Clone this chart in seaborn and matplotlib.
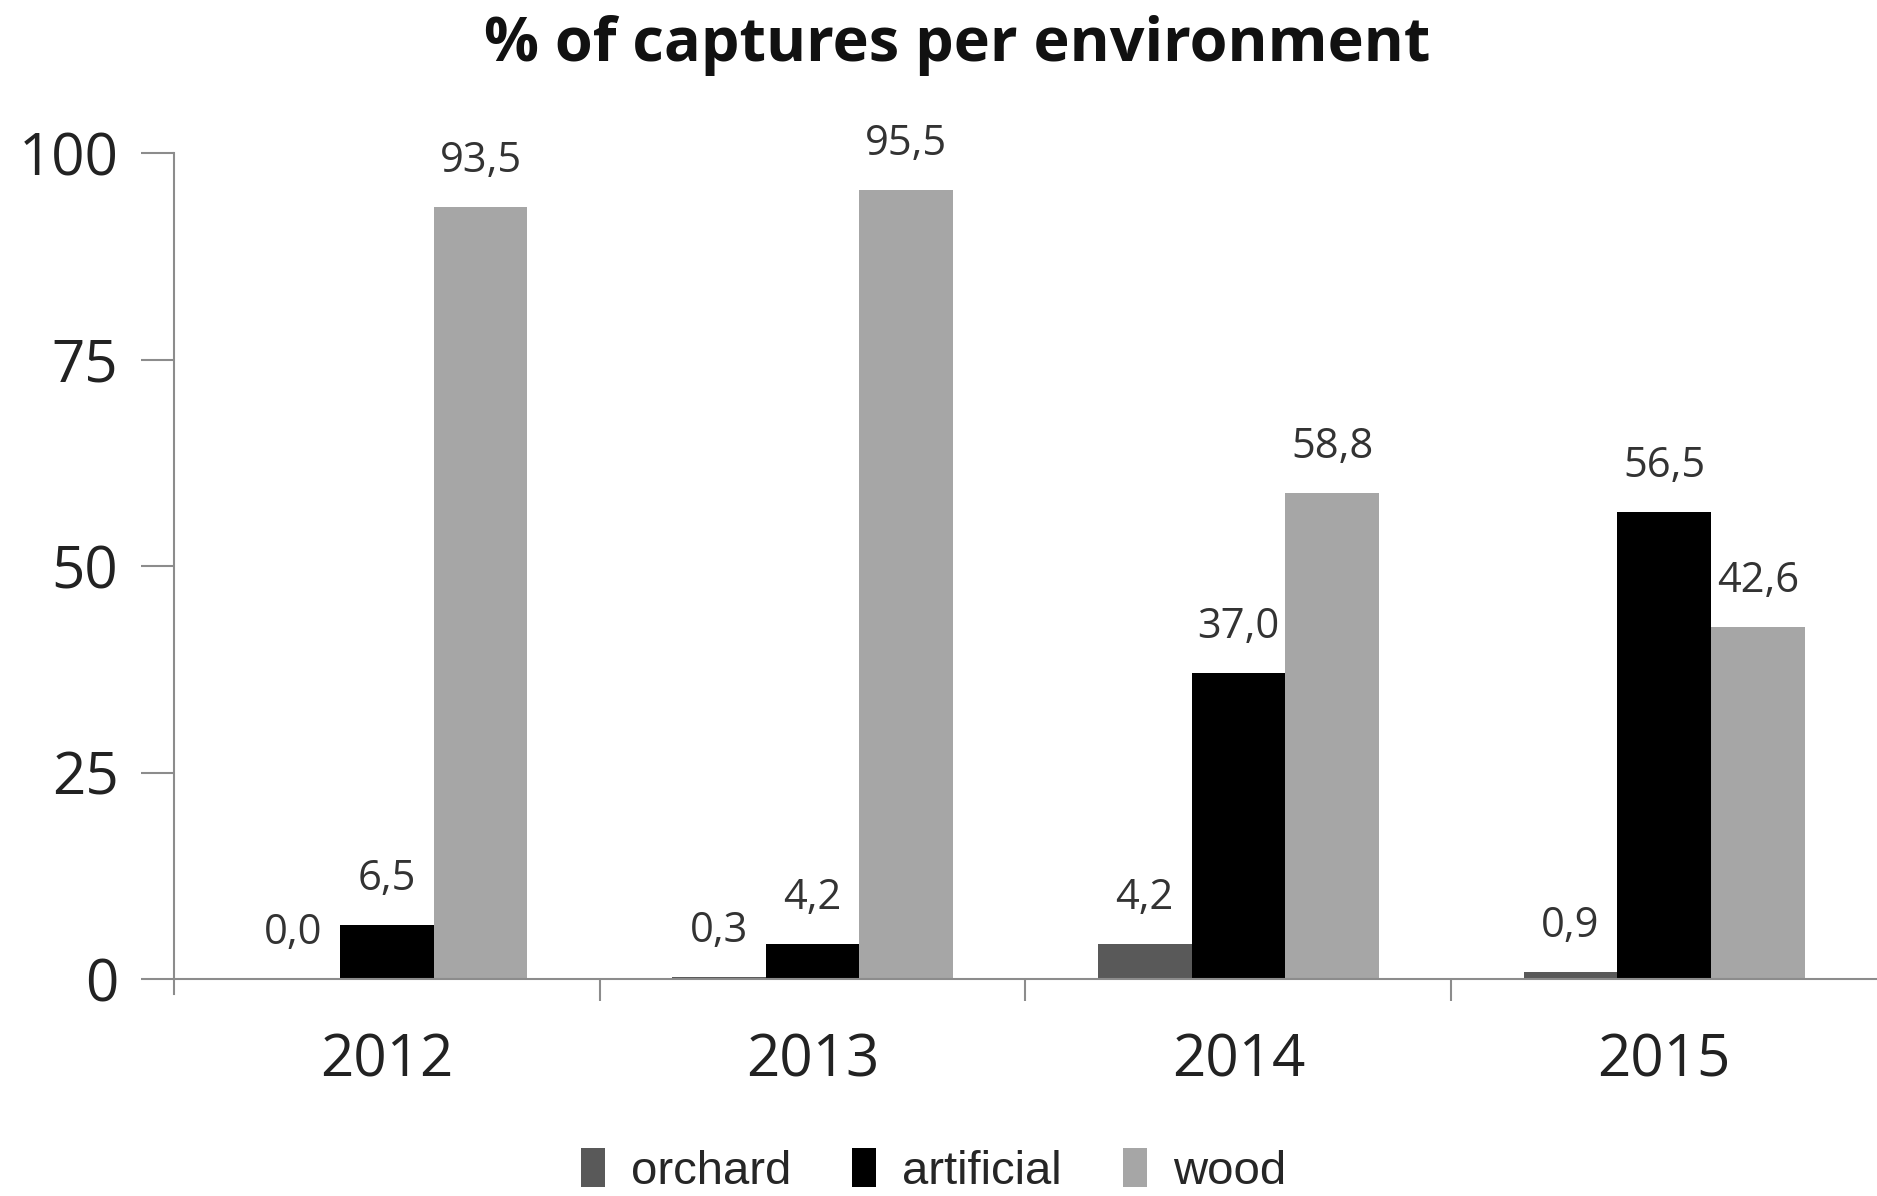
import matplotlib
matplotlib.use("Agg")
import matplotlib.pyplot as plt
import seaborn as sns
import pandas as pd
import numpy as np

years = ["2012", "2013", "2014", "2015"]
environments = ["orchard", "artificial", "wood"]
orchard = [0.0, 0.3, 4.2, 0.9]
artificial = [6.5, 4.2, 37.0, 56.5]
wood = [93.5, 95.5, 58.8, 42.6]
colors = ["#595959", "#000000", "#a6a6a6"]

df = pd.DataFrame({
    "year": years * 3,
    "environment": [e for e in environments for _ in years],
    "value": orchard + artificial + wood,
})

sns.set_theme(style="white")
plt.rcParams["font.family"] = ["Open Sans", "DejaVu Sans"]

fig = plt.figure(figsize=(18.77, 11.96), dpi=100)
ax = fig.add_axes([0.0927, 0.1814, 0.9073, 0.6906])

sns.barplot(data=df, x="year", y="value", hue="environment", order=years,
            hue_order=environments, palette=colors, width=0.66, gap=0,
            saturation=1, edgecolor="none", ax=ax, legend=True)

ax.set_ylim(0, 100)
ax.set_xlim(-0.5, 3.5)
ax.set_yticks([0, 25, 50, 75, 100])
ax.set_xlabel("")
ax.set_ylabel("")

axis_col = "#8c8c8c"
for s in ["top", "right"]:
    ax.spines[s].set_visible(False)
for s in ["left", "bottom"]:
    ax.spines[s].set_color(axis_col)
    ax.spines[s].set_linewidth(1.5)
ax.spines["left"].set_bounds(-1.8, 100)

ax.tick_params(axis="y", which="major", direction="out", length=24, width=1.5,
               color=axis_col, labelsize=42, labelcolor="#222222", pad=16, left=True)
ax.tick_params(axis="x", which="major", length=0, labelsize=42,
               labelcolor="#222222", pad=38)
ax.set_xticks([0.5, 1.5, 2.5], minor=True)
ax.tick_params(axis="x", which="minor", direction="out", length=16, width=1.5,
               color=axis_col, bottom=True)

# value labels above each bar
for cont in ax.containers:
    labels = [f"{v:.1f}".replace(".", ",") for v in cont.datavalues]
    ax.bar_label(cont, labels=labels, padding=18, fontsize=30, color="#333333")

ax.text(0.46, 1.13, "% of captures per environment", transform=ax.transAxes,
        ha="center", va="center", fontsize=44, fontweight="bold", color="#111111")

handles, lbls = ax.get_legend_handles_labels()
ax.legend(handles, lbls, loc="center", bbox_to_anchor=(0.446, -0.232),
          ncol=3, frameon=False, handlelength=0.5, handleheight=0.9,
          handletextpad=0.55, columnspacing=1.3,
          prop={"family": "Liberation Sans", "size": 34})

for t in ax.texts:
    t.set_clip_on(False)

fig.savefig("out.png", dpi=100, facecolor="white")
